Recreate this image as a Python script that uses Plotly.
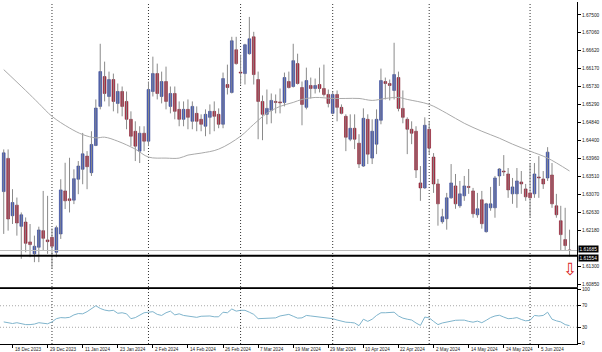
import pandas as pd
import plotly.graph_objects as go

# ---------------- data ----------------
OPEN = [1.63139, 1.63959, 1.62543, 1.62805, 1.62281, 1.62388, 1.61897, 1.61603, 1.61765, 1.62175,
        1.61946, 1.62010, 1.61642, 1.62094, 1.63156, 1.62960, 1.62928, 1.63444, 1.63689, 1.64015,
        1.63606, 1.64278, 1.65242, 1.65978, 1.65487, 1.65905, 1.65316, 1.65610, 1.65365, 1.64923,
        1.64629, 1.64138, 1.64580, 1.64383, 1.65610, 1.66052, 1.65487, 1.65856, 1.65242, 1.65561,
        1.65169, 1.64923, 1.65169, 1.64874, 1.65070, 1.64923, 1.64752, 1.64972, 1.65120, 1.65046,
        1.64801, 1.65782, 1.65586, 1.66641, 1.66089, 1.66052, 1.66543, 1.66960, 1.65905, 1.65365,
        1.65046, 1.65144, 1.65365, 1.65353, 1.65340, 1.65856, 1.65733, 1.66298, 1.65708, 1.65218,
        1.65758, 1.65684, 1.65782, 1.65684, 1.65537, 1.65070, 1.65537, 1.65218, 1.64997, 1.64432,
        1.64702, 1.64334, 1.63770, 1.64923, 1.63966, 1.64310, 1.64899, 1.65856, 1.65807, 1.65635,
        1.65954, 1.65193, 1.64923, 1.64678, 1.64629, 1.63353, 1.63230, 1.64678, 1.63991, 1.63328,
        1.62396, 1.62469, 1.62985, 1.63279, 1.62788, 1.63034, 1.63267, 1.63156, 1.62567, 1.62936,
        1.62150, 1.62739, 1.62739, 1.63525, 1.63647, 1.63574, 1.63083, 1.63083, 1.63377, 1.63205,
        1.63107, 1.63083, 1.63500, 1.63451, 1.63476, 1.63549, 1.62788, 1.62420, 1.61954, 1.61700]
HIGH = [1.64180, 1.64180, 1.63198, 1.62992, 1.62624, 1.62501, 1.62339, 1.62052, 1.62273, 1.63156,
        1.63034, 1.62232, 1.62298, 1.63444, 1.63851, 1.63974, 1.63689, 1.63893, 1.64587, 1.64138,
        1.64629, 1.65414, 1.66788, 1.66347, 1.66101, 1.66052, 1.65807, 1.65733, 1.65610, 1.65120,
        1.64874, 1.64752, 1.64752, 1.65856, 1.66470, 1.66298, 1.66101, 1.66224, 1.65733, 1.65733,
        1.65365, 1.65365, 1.65414, 1.65365, 1.65242, 1.65046, 1.65169, 1.65291, 1.65365, 1.65193,
        1.66077, 1.66273, 1.66960, 1.66960, 1.66518, 1.66788, 1.67451, 1.67083, 1.66101, 1.65512,
        1.65659, 1.65561, 1.65537, 1.65684, 1.66077, 1.66101, 1.66788, 1.66543, 1.65856, 1.66199,
        1.65954, 1.65929, 1.66199, 1.66273, 1.65659, 1.65610, 1.65635, 1.65291, 1.65046, 1.65046,
        1.65046, 1.64555, 1.65193, 1.65046, 1.64923, 1.65169, 1.66175, 1.65954, 1.65905, 1.66813,
        1.66101, 1.65635, 1.64972, 1.64874, 1.64752, 1.63770, 1.64972, 1.64874, 1.64089, 1.63451,
        1.62715, 1.63107, 1.63819, 1.63574, 1.63402, 1.63525, 1.63697, 1.63230, 1.63107, 1.63156,
        1.62862, 1.63255, 1.63525, 1.63721, 1.64040, 1.63721, 1.63476, 1.63721, 1.63647, 1.63328,
        1.63844, 1.63844, 1.64015, 1.63647, 1.64236, 1.63844, 1.63083, 1.62788, 1.62739, 1.62199]
LOW = [1.62094, 1.62175, 1.62339, 1.62052, 1.61480, 1.61642, 1.61520, 1.61397, 1.61397, 1.61684,
       1.61603, 1.61235, 1.61520, 1.61971, 1.62708, 1.62624, 1.62830, 1.63075, 1.63321, 1.63198,
       1.63525, 1.64261, 1.65169, 1.65365, 1.65242, 1.65120, 1.65070, 1.64997, 1.64678, 1.64261,
       1.63893, 1.63844, 1.64138, 1.64261, 1.65487, 1.65414, 1.65316, 1.65169, 1.65070, 1.64923,
       1.64752, 1.64752, 1.64678, 1.64678, 1.64629, 1.64629, 1.64506, 1.64555, 1.64629, 1.64703,
       1.64703, 1.65536, 1.65561, 1.66273, 1.65782, 1.65782, 1.66518, 1.65782, 1.64432, 1.64408,
       1.64801, 1.64825, 1.65070, 1.65070, 1.65242, 1.65684, 1.65708, 1.65782, 1.64776, 1.65169,
       1.65438, 1.65561, 1.65586, 1.65487, 1.65218, 1.65046, 1.64874, 1.65046, 1.64138, 1.64383,
       1.64187, 1.63721, 1.63746, 1.63819, 1.63819, 1.64064, 1.64801, 1.65414, 1.65390, 1.65414,
       1.65120, 1.64825, 1.64064, 1.64310, 1.63475, 1.62911, 1.63205, 1.64064, 1.63107, 1.62298,
       1.62347, 1.62199, 1.62960, 1.62715, 1.62739, 1.62911, 1.63083, 1.62494, 1.62494, 1.62224,
       1.62126, 1.62666, 1.62494, 1.63279, 1.63525, 1.62985, 1.62837, 1.62739, 1.63083, 1.62911,
       1.62518, 1.62985, 1.62985, 1.63205, 1.63402, 1.62739, 1.62494, 1.61684, 1.61684, 1.61537]
CLOSE = [1.64096, 1.62462, 1.62869, 1.62364, 1.62567, 1.61863, 1.61831, 1.61790, 1.62192, 1.61986,
         1.61904, 1.61790, 1.62249, 1.63181, 1.62911, 1.62918, 1.63458, 1.63770, 1.64072, 1.63753,
         1.64302, 1.65201, 1.66101, 1.65561, 1.65905, 1.65365, 1.65610, 1.65242, 1.64923, 1.64506,
         1.64261, 1.64580, 1.64383, 1.65659, 1.66052, 1.65561, 1.65856, 1.65365, 1.65561, 1.65120,
         1.64923, 1.65169, 1.64972, 1.65242, 1.64874, 1.64801, 1.65046, 1.65120, 1.64997, 1.64801,
         1.65929, 1.65708, 1.66862, 1.66298, 1.66064, 1.66764, 1.66911, 1.66028, 1.65365, 1.65046,
         1.65193, 1.65390, 1.65340, 1.65328, 1.65954, 1.65708, 1.66371, 1.65807, 1.65291, 1.65880,
         1.65684, 1.65758, 1.65684, 1.65537, 1.65316, 1.65537, 1.65218, 1.65070, 1.64481, 1.64702,
         1.64432, 1.63819, 1.64948, 1.64064, 1.64629, 1.64923, 1.65880, 1.65807, 1.65758, 1.66028,
         1.65193, 1.64972, 1.64678, 1.64580, 1.63672, 1.63230, 1.64776, 1.64212, 1.63328, 1.62837,
         1.62518, 1.62985, 1.63353, 1.62837, 1.63083, 1.63279, 1.63242, 1.62592, 1.62715, 1.62347,
         1.62837, 1.62837, 1.63476, 1.63697, 1.63623, 1.63181, 1.63255, 1.63402, 1.63328, 1.63009,
         1.62985, 1.63574, 1.63476, 1.63328, 1.64113, 1.62837, 1.62567, 1.62077, 1.61807, 1.61685]

MA_IDX = [0, 5, 8, 11, 15, 18, 21, 23, 26, 30, 33, 37, 40, 42, 45, 49, 54, 57, 60, 63, 66, 68, 71,
          75, 78, 81, 84, 87, 90, 92, 97, 101, 105, 109, 113, 116, 120, 124, 129]
MA_VAL = [1.66150, 1.65635, 1.65316, 1.64997, 1.64709, 1.64547, 1.64465, 1.64482, 1.64383, 1.64187,
          1.63991, 1.63966, 1.63966, 1.64040, 1.64089, 1.64187, 1.64506, 1.64801, 1.65071, 1.65242,
          1.65340, 1.65414, 1.65463, 1.65438, 1.65438, 1.65438, 1.65390, 1.65438, 1.65463, 1.65414,
          1.65291, 1.65071, 1.64825, 1.64629, 1.64457, 1.64310, 1.64138, 1.63966, 1.63647]

RSI = [40, 38, 37, 38.5, 37, 35, 35, 36, 38.5, 38, 36.5, 40, 46, 48, 47.5, 48.5, 53, 55.5, 55, 59,
       64, 70, 65, 62, 60.5, 61.5, 56, 57, 55, 46, 48, 53, 57, 58, 59, 54, 52, 57, 60, 53,
       55, 52, 50.5, 49, 48.5, 50.5, 51, 51, 49.5, 49.5, 58, 57, 64, 60, 61.5, 61.5, 58, 54, 46, 46.5,
       47.5, 48, 47.5, 51, 53, 54, 50.5, 47, 47.5, 52, 51, 50, 49, 48.5, 47, 46, 43.5, 41, 39.5, 39,
       38, 33, 45, 41, 45, 52, 57, 57, 58, 58, 51, 47, 45, 43.5, 38, 33.5, 49, 47.5, 41, 35,
       38, 40, 42, 43, 43.3, 43.3, 41, 39.5, 41.5, 38.5, 43, 48, 51, 52.4, 49, 46, 46.5, 48, 44.5, 42,
       43, 52, 51, 52, 58, 45, 42, 40, 35, 33]

PRICE_TICKS = [1.67500, 1.67060, 1.66620, 1.66170, 1.65730, 1.65290, 1.64840, 1.64400, 1.63960,
               1.63510, 1.63070, 1.62630, 1.62180, 1.61300, 1.60850]
RSI_TICKS = [0, 30, 70, 100]
DATE_LABELS = ["18 Dec 2023", "29 Dec 2023", "11 Jan 2024", "23 Jan 2024", "2 Feb 2024",
               "14 Feb 2024", "26 Feb 2024", "7 Mar 2024", "19 Mar 2024", "29 Mar 2024",
               "10 Apr 2024", "22 Apr 2024", "2 May 2024", "14 May 2024", "24 May 2024",
               "5 Jun 2024"]
LEVEL_BID = 1.61685
LEVEL_LINE = 1.61554

# ---------------- bar calendar ----------------
holidays = {pd.Timestamp("2023-12-25"), pd.Timestamp("2024-01-01")}
dates = [d for d in pd.bdate_range("2023-12-14", "2024-06-14") if d not in holidays]
n = len(dates)
idx = list(range(n))
date_pos = {d.strftime("%-d %b %Y"): i for i, d in enumerate(dates)}
label_idx = [date_pos[s] for s in DATE_LABELS]
month_starts = [i for i in range(1, n) if dates[i].month != dates[i - 1].month]

FONT = "Liberation Sans"
fig = go.Figure()

# wicks
wx, wy = [], []
for i in idx:
    wx += [i, i, None]
    wy += [LOW[i], HIGH[i], None]
fig.add_trace(go.Scatter(x=wx, y=wy, mode="lines", line=dict(color="#8a8a8a", width=1),
                         hoverinfo="skip", showlegend=False, xaxis="x", yaxis="y"))

# bodies
base, hgt, fill, edge = [], [], [], []
for o, c in zip(OPEN, CLOSE):
    base.append(min(o, c))
    hgt.append(max(abs(c - o), 0.00004))
    if abs(c - o) < 0.0001:
        fill.append("#3a2030"); edge.append("#3a2030")
    elif c > o:
        fill.append("#4259bd"); edge.append("#2c3d8c")
    else:
        fill.append("#b3243d"); edge.append("#7c1528")
fig.add_trace(go.Bar(x=idx, y=hgt, base=base, width=0.62,
                     marker=dict(color=fill, line=dict(color=edge, width=0.6)),
                     showlegend=False, xaxis="x", yaxis="y"))

# moving average
fig.add_trace(go.Scatter(x=MA_IDX, y=MA_VAL, mode="lines",
                         line=dict(color="#a9a9a9", width=1, shape="spline"),
                         showlegend=False, xaxis="x", yaxis="y"))

# RSI
fig.add_trace(go.Scatter(x=idx, y=RSI, mode="lines", line=dict(color="#7fb4cc", width=1),
                         showlegend=False, xaxis="x2", yaxis="y2"))

shapes = []
for m in month_starts:
    shapes.append(dict(type="line", xref="x", x0=m, x1=m, yref="paper", y0=0, y1=1,
                       line=dict(color="#333333", width=1, dash="1px,2px"), layer="below"))
for lv in (30, 70):
    shapes.append(dict(type="line", xref="paper", x0=0, x1=1, yref="y2", y0=lv, y1=lv,
                       line=dict(color="#a8a8a8", width=1, dash="1px,2px"), layer="below"))
shapes.append(dict(type="line", xref="paper", x0=0, x1=1, yref="y", y0=LEVEL_BID, y1=LEVEL_BID,
                   line=dict(color="#bdbdbd", width=1)))
shapes.append(dict(type="line", xref="paper", x0=0, x1=1, yref="y", y0=LEVEL_LINE, y1=LEVEL_LINE,
                   line=dict(color="#000000", width=2)))

annotations = []
for s, i in zip(DATE_LABELS, label_idx):
    annotations.append(dict(x=i, xref="x2", y=0, yref="paper", yanchor="top", xanchor="left",
                            yshift=-1, text=s, showarrow=False,
                            font=dict(family=FONT, size=4.6, color="#222222")))
for lv, sh in ((LEVEL_BID, 2), (LEVEL_LINE, -2)):
    annotations.append(dict(x=1, xref="paper", y=lv, yref="y", xanchor="left", yanchor="middle",
                            xshift=1, yshift=sh, text=f"{lv:.5f}", showarrow=False, bgcolor="#000000",
                            borderpad=0.5, font=dict(family=FONT, size=4.8, color="#ffffff")))
annotations.append(dict(x=idx[-1], xref="x", y=1.6122, yref="y", text="⇩", showarrow=False,
                        font=dict(family="DejaVu Sans", size=17, color="#d81e1e")))

xr = [-0.85, 130.7]
fig.update_layout(
    width=602, height=352,
    margin=dict(l=0, r=25, t=0, b=8),
    paper_bgcolor="white", plot_bgcolor="white",
    showlegend=False, barmode="overlay",
    font=dict(family=FONT, size=5, color="#222222"),
    xaxis=dict(domain=[0, 1], range=xr, anchor="y", showticklabels=False, showgrid=False,
               zeroline=False, showline=True, linecolor="#333333", linewidth=2, ticks=""),
    yaxis=dict(domain=[0.1657, 1], range=[1.60776, 1.67819], side="right", anchor="x",
               tickvals=PRICE_TICKS, ticktext=[f"{v:.5f}" for v in PRICE_TICKS],
               ticks="outside", ticklen=3, tickcolor="#000000", showgrid=False, zeroline=False,
               showline=True, linecolor="#000000", linewidth=1,
               tickfont=dict(family=FONT, size=4.8, color="#222222")),
    xaxis2=dict(domain=[0, 1], range=xr, anchor="y2", tickvals=label_idx, showticklabels=False,
                ticks="outside", ticklen=3, tickcolor="#000000", showgrid=False, zeroline=False,
                showline=True, mirror=True, linecolor="#000000", linewidth=1),
    yaxis2=dict(domain=[0, 0.1599], range=[-1, 100.5], side="right", anchor="x2",
                tickvals=RSI_TICKS, ticktext=[str(v) for v in RSI_TICKS],
                ticks="outside", ticklen=3, tickcolor="#000000", showgrid=False, zeroline=False,
                showline=True, linecolor="#000000", linewidth=1,
                tickfont=dict(family=FONT, size=4.8, color="#222222")),
    shapes=shapes, annotations=annotations,
)

fig.write_html("out.html")
